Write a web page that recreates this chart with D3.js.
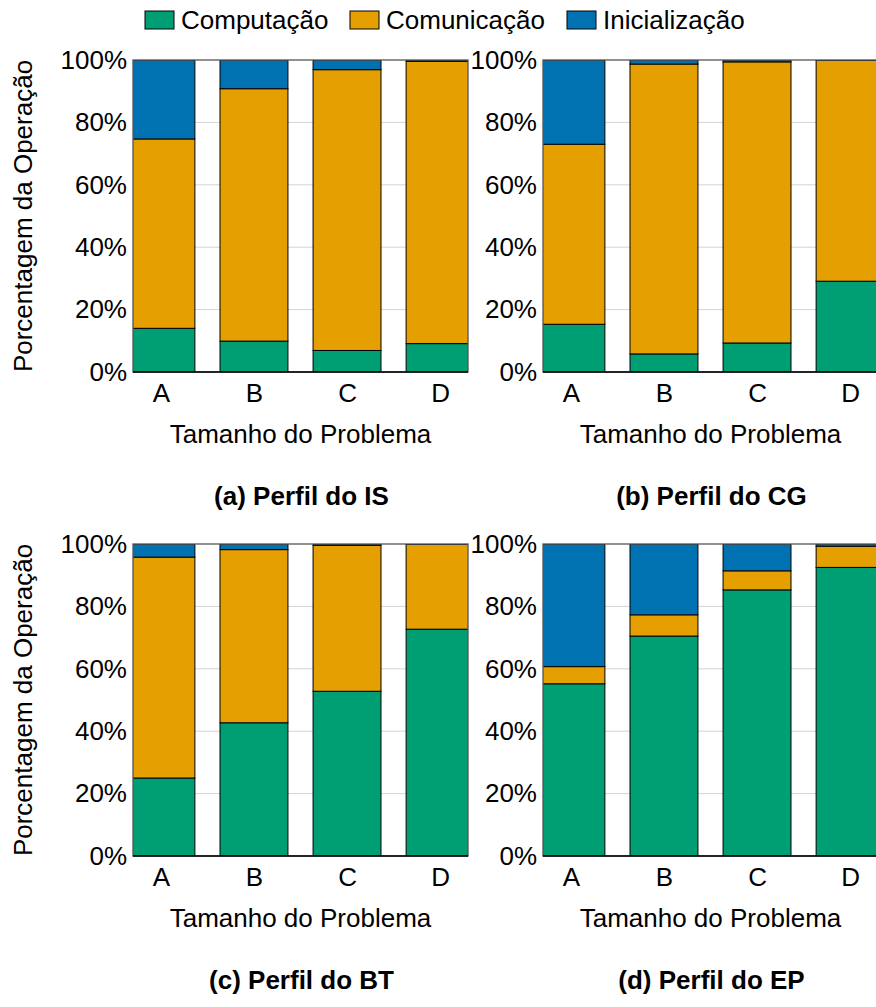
<!DOCTYPE html>
<html>
<head>
<meta charset="utf-8">
<script src="https://cdn.jsdelivr.net/npm/d3@7"></script>
<style>
  body { margin: 0; background: #fff; }
  text { font-family: "Liberation Sans", Arial, Helvetica, sans-serif; fill: #000; }
</style>
</head>
<body>
<svg id="chart"></svg>
<script>
const categories = ["A", "B", "C", "D"];
const seriesNames = ["Computação", "Comunicação", "Inicialização"];
const yTicks = [0, 20, 40, 60, 80, 100];

// percentages
const isComp = [14.0, 9.9, 6.9, 9.1];
const isComm = [60.7, 80.9, 90.0, 90.5];
const isInit = [25.3, 9.2, 3.1, 0.4];

const cgComp = [15.3, 5.8, 9.3, 29.1];
const cgComm = [57.7, 92.9, 90.1, 70.8];
const cgInit = [27.0, 1.3, 0.6, 0.1];

const btComp = [25.0, 42.7, 52.8, 72.7];
const btComm = [70.8, 55.5, 46.8, 27.2];
const btInit = [4.2, 1.8, 0.4, 0.1];

const epComp = [55.2, 70.5, 85.3, 92.5];
const epComm = [5.5, 6.8, 6.1, 6.8];
const epInit = [39.3, 22.7, 8.6, 0.7];

const panels = [
    {caption: "(a) Perfil do IS", comp: isComp, comm: isComm, init: isInit, left: 133, top: 60, ylabel: true},
    {caption: "(b) Perfil do CG", comp: cgComp, comm: cgComm, init: cgInit, left: 543, top: 60, ylabel: false},
    {caption: "(c) Perfil do BT", comp: btComp, comm: btComm, init: btInit, left: 133, top: 544, ylabel: true},
    {caption: "(d) Perfil do EP", comp: epComp, comm: epComm, init: epInit, left: 543, top: 544, ylabel: false}
];

const colors = ["#009E73", "#E69F00", "#0072B2"];
const fontSize = 26;
const plot_width = 335;
const plot_height = 312;

const svg = d3.select("#chart")
    .attr("width", 876)
    .attr("height", 1007);

svg.append("rect").attr("width", 876).attr("height", 1007).attr("fill", "#fff");

const x = d3.scaleLinear().domain([-0.3, 3.3]).range([0, plot_width]);
const y = d3.scaleLinear().domain([0, 100]).range([plot_height, 0]);
const barW = x(0.73) - x(0);
const color = d3.scaleOrdinal().domain(seriesNames).range(colors);

// legend
const legendItems = [
    {name: seriesNames[0], x: 145},
    {name: seriesNames[1], x: 350},
    {name: seriesNames[2], x: 567}
];
const legend = svg.append("g");
legendItems.forEach(d => {
    legend.append("rect")
        .attr("x", d.x).attr("y", 11)
        .attr("width", 29).attr("height", 18)
        .attr("fill", color(d.name))
        .attr("stroke", "#000").attr("stroke-width", 1);
    legend.append("text")
        .attr("x", d.x + 36).attr("y", 29)
        .attr("font-size", fontSize)
        .text(d.name);
});

panels.forEach((p, i) => {
    const g = svg.append("g").attr("transform", `translate(${p.left},${p.top})`);
    const clipId = "clip" + i;
    g.append("clipPath").attr("id", clipId)
        .append("rect").attr("width", plot_width).attr("height", plot_height);

    // grid
    g.append("g").selectAll("line")
        .data(yTicks.filter(t => t > 0 && t < 100))
        .join("line")
        .attr("x1", 0).attr("x2", plot_width)
        .attr("y1", d => y(d)).attr("y2", d => y(d))
        .attr("stroke", "#d4d4d4").attr("stroke-width", 1);

    const rows = categories.map((c, j) => ({
        cat: c, idx: j,
        "Computação": p.comp[j], "Comunicação": p.comm[j], "Inicialização": p.init[j]
    }));
    const stacked = d3.stack().keys(seriesNames)(rows);

    const bars = g.append("g").attr("clip-path", `url(#${clipId})`);
    bars.selectAll("g")
        .data(stacked)
        .join("g")
        .attr("fill", d => color(d.key))
        .selectAll("rect")
        .data(d => d)
        .join("rect")
        .attr("x", d => x(d.data.idx) - barW / 2)
        .attr("width", barW)
        .attr("y", d => y(d[1]))
        .attr("height", d => y(d[0]) - y(d[1]))
        .attr("stroke", "#000")
        .attr("stroke-width", 1);

    // frame
    g.append("rect")
        .attr("width", plot_width).attr("height", plot_height)
        .attr("fill", "none").attr("stroke", "#555").attr("stroke-width", 1.3);
    g.append("line")
        .attr("x1", 0).attr("x2", plot_width)
        .attr("y1", plot_height).attr("y2", plot_height)
        .attr("stroke", "#000").attr("stroke-width", 1.5);

    // y axis
    const yAxis = g.append("g")
        .call(d3.axisLeft(y).tickValues(yTicks).tickSize(0).tickPadding(6).tickFormat(d => d + "%"));
    yAxis.select(".domain").remove();
    yAxis.selectAll("text").attr("font-size", fontSize).attr("font-family", null);

    // x axis
    const xAxis = g.append("g")
        .attr("transform", `translate(0,${plot_height})`)
        .call(d3.axisBottom(x).tickValues([0, 1, 2, 3]).tickSize(0).tickPadding(12)
            .tickFormat(d => categories[d]));
    xAxis.select(".domain").remove();
    xAxis.selectAll("text").attr("font-size", fontSize).attr("font-family", null);

    g.append("text")
        .attr("x", plot_width / 2).attr("y", plot_height + 71)
        .attr("text-anchor", "middle")
        .attr("font-size", fontSize)
        .text("Tamanho do Problema");

    g.append("text")
        .attr("x", plot_width / 2 + 1).attr("y", plot_height + 133)
        .attr("text-anchor", "middle")
        .attr("font-size", fontSize)
        .attr("font-weight", "bold")
        .text(p.caption);

    if (p.ylabel) {
        g.append("text")
            .attr("transform", "rotate(-90)")
            .attr("x", -plot_height / 2)
            .attr("y", -p.left + 32)
            .attr("text-anchor", "middle")
            .attr("font-size", fontSize)
            .text("Porcentagem da Operação");
    }
});
</script>
</body>
</html>
